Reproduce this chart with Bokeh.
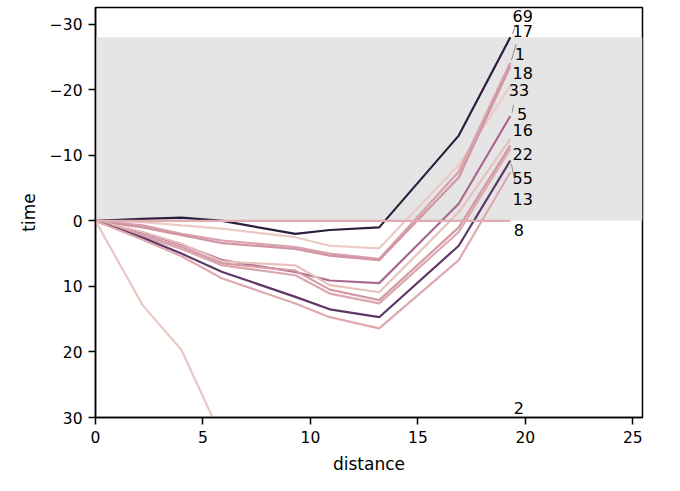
import numpy as np
from bokeh.plotting import figure
from bokeh.models import Range1d, FixedTicker, BoxAnnotation
from bokeh.core.properties import value
from bokeh.embed import file_html
from bokeh.resources import INLINE

# ---------------- data ----------------
distance = [0, 2.2, 4.0, 5.9, 9.3, 10.9, 13.2, 16.9, 19.3]

time_17 = [0, -0.3, -0.5, 0.0, 2.0, 1.4, 1.0, -13.0, -28.0]
time_33 = [0, 0.2, 0.7, 1.2, 2.5, 3.8, 4.2, -8.5, -20.6]
time_1 = [0, 0.7, 2.0, 3.0, 4.0, 5.0, 5.8, -7.5, -24.1]
time_18 = [0, 1.0, 2.2, 3.4, 4.3, 5.3, 6.0, -6.6, -23.6]
time_5 = [0, 1.8, 3.6, 6.0, 7.8, 9.1, 9.5, -2.6, -16.0]
time_16 = [0, 1.7, 3.5, 6.2, 6.8, 9.8, 10.9, -1.3, -12.5]
time_22 = [0, 2.2, 4.0, 6.5, 7.6, 10.5, 12.1, 1.0, -11.5]
time_69 = [0, 2.4, 4.3, 6.8, 8.3, 11.1, 12.6, 1.7, -11.0]
time_55 = [0, 2.6, 5.0, 7.8, 11.6, 13.5, 14.7, 3.8, -9.2]
time_13 = [0, 2.9, 5.4, 8.8, 12.6, 14.7, 16.4, 6.0, -7.4]
time_8 = [0, 0, 0, 0, 0, 0, 0, 0, 0]
time_2 = [0, 12.9, 19.7, 33.2, 52.0, 60.0, 70.0, 68.0, 60.0]

series_ids = ["17", "33", "1", "18", "5", "16", "22", "69", "55", "13", "8", "2"]
series_times = [time_17, time_33, time_1, time_18, time_5, time_16, time_22,
                time_69, time_55, time_13, time_8, time_2]
hue_level = [0.15, 0.83, 0.70, 0.66, 0.50, 0.80, 0.68, 0.72, 0.28, 0.73, 0.74, 0.82]

leader_band = [-28, 0]

label_text = ["69", "17", "1", "18", "33", "5", "16", "22", "55", "13", "8", "2"]
label_x = [19.40, 19.40, 19.51, 19.40, 19.23, 19.61, 19.40, 19.40, 19.40, 19.40, 19.46, 19.46]
label_y = [-31.3, -29.0, -25.4, -22.5, -19.9, -16.3, -13.8, -10.2, -6.5, -3.4, 1.4, 28.5]

conn_x0 = [19.40, 19.35, 19.38, 19.35]
conn_y0 = [-28.5, -24.5, -16.5, -8.7]
conn_x1 = [19.51, 19.57, 19.45, 19.53]
conn_y1 = [-29.5, -26.9, -17.7, -5.7]

y_ticks = [-30, -20, -10, 0, 10, 20, 30]
x_ticks = [0, 5, 10, 15, 20, 25]


def cubehelix_color(level, start=0.0, rot=0.4, hue=0.8):
    g = level
    a = hue * g * (1 - g) / 2
    phi = 2 * np.pi * (start / 3 + rot * level)
    c, s = np.cos(phi), np.sin(phi)
    r = g + a * (-0.14861 * c + 1.78277 * s)
    gg = g + a * (-0.29227 * c - 0.90649 * s)
    b = g + a * (1.97294 * c)
    vals = [int(round(min(max(v, 0), 1) * 255)) for v in (r, gg, b)]
    return "#%02x%02x%02x" % tuple(vals)


FONT = "DejaVu Sans"

p = figure(frame_width=547, frame_height=410,
           x_range=Range1d(0, 25.45), y_range=Range1d(30, -32.54),
           output_backend="svg", toolbar_location=None,
           min_border_left=95, min_border_right=30,
           min_border_top=7, min_border_bottom=66)

p.background_fill_color = "white"
p.border_fill_color = "white"
p.xgrid.visible = False
p.ygrid.visible = False
p.outline_line_color = "black"
p.outline_line_width = 1.5
p.outline_line_alpha = 1.0

band = BoxAnnotation(bottom=leader_band[1], top=leader_band[0],
                     fill_color="#e5e5e5", fill_alpha=1.0,
                     line_color=None, level="underlay")
p.add_layout(band)

for sid, t, lv in zip(series_ids, series_times, hue_level):
    p.line(distance, t, line_color=cubehelix_color(lv), line_width=2.2)

p.segment(x0=conn_x0, y0=conn_y0, x1=conn_x1, y1=conn_y1,
          line_color="#8c8c8c", line_width=1)

p.text(x=label_x, y=label_y, text=label_text,
       text_font=value(FONT), text_font_size=value("16px"),
       text_color="black", text_align="left", text_baseline="middle")

p.xaxis.ticker = FixedTicker(ticks=x_ticks)
p.yaxis.ticker = FixedTicker(ticks=y_ticks)
p.yaxis.major_label_overrides = {t: (("\u2212" + str(abs(t))) if t < 0 else str(t)) for t in y_ticks}
p.xaxis.axis_label = "distance"
p.yaxis.axis_label = "time"

for ax in (p.xaxis, p.yaxis):
    ax.axis_line_color = "black"
    ax.axis_line_width = 1.5
    ax.major_tick_line_color = "black"
    ax.major_tick_line_width = 1.5
    ax.major_tick_out = 7
    ax.major_tick_in = 0
    ax.minor_tick_line_color = None
    ax.major_label_text_font = FONT
    ax.major_label_text_font_size = "15.5px"
    ax.major_label_text_color = "black"
    ax.axis_label_text_font = FONT
    ax.axis_label_text_font_size = "17px"
    ax.axis_label_text_font_style = "normal"
    ax.axis_label_text_color = "black"

p.xaxis.major_label_standoff = 6
p.yaxis.major_label_standoff = 6
p.xaxis.axis_label_standoff = 8
p.yaxis.axis_label_standoff = 8

open("out.html", "w").write(file_html(p, INLINE))
